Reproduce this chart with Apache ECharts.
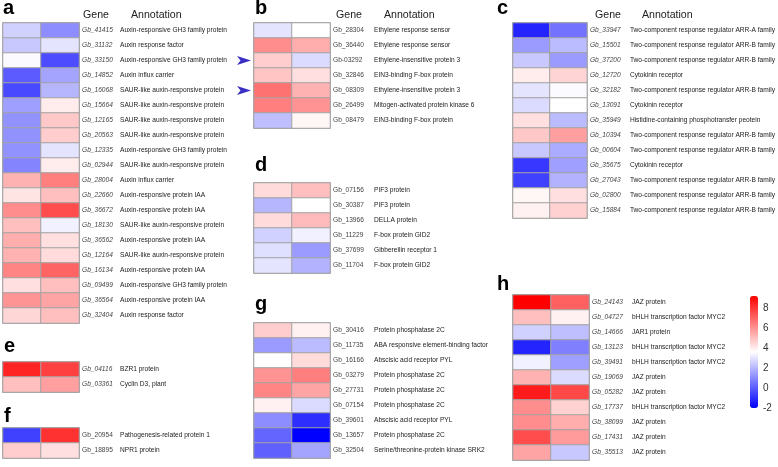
<!DOCTYPE html>
<html><head><meta charset="utf-8">
<script src="https://cdn.jsdelivr.net/npm/echarts@6/dist/echarts.min.js"></script>
<style>html,body{margin:0;padding:0;background:#fff}#c{width:778px;height:467px}</style>
</head><body><div id="c"></div>
<script>
// ---------- DATA ----------
const columns = ['1', '2'];
const colorTicks = [-2, 0, 2, 4, 6, 8];

const aGenes = ['Gb_41415','Gb_31132','Gb_33150','Gb_14852','Gb_16068','Gb_15664','Gb_12165','Gb_20563','Gb_12335','Gb_02944','Gb_28004','Gb_22660','Gb_36672','Gb_18130','Gb_36562','Gb_12164','Gb_16134','Gb_09499','Gb_36564','Gb_32404'];
const aAnnot = ['Auxin-responsive GH3 family protein','Auxin response factor','Auxin-responsive GH3 family protein','Auxin influx carrier','SAUR-like auxin-responsive protein','SAUR-like auxin-responsive protein','SAUR-like auxin-responsive protein','SAUR-like auxin-responsive protein','Auxin-responsive GH3 family protein','SAUR-like auxin-responsive protein','Auxin influx carrier','Auxin-responsive protein IAA','Auxin-responsive protein IAA','SAUR-like auxin-responsive protein','Auxin-responsive protein IAA','SAUR-like auxin-responsive protein','Auxin-responsive protein IAA','Auxin-responsive GH3 family protein','Auxin-responsive protein IAA','Auxin response factor'];
const aValues = [[2.6,1.1],[2.4,3.0],[3.5,-0.3],[0.0,1.6],[-0.4,2.0],[1.5,4.0],[1.2,4.8],[1.2,4.7],[1.2,3.0],[0.9,4.0],[5.3,6.4],[4.2,5.0],[6.1,7.5],[5.0,3.3],[5.4,4.3],[5.3,4.4],[6.3,7.0],[4.3,5.0],[5.95,5.6],[4.5,5.0]];

const eGenes = ['Gb_04116','Gb_03361'];
const eAnnot = ['BZR1 protein','Cyclin D3, plant'];
const eValues = [[8.4,7.8],[5.0,5.7]];

const fGenes = ['Gb_20954','Gb_18895'];
const fAnnot = ['Pathogenesis-related protein 1','NPR1 protein'];
const fValues = [[-0.6,8.1],[4.7,4.3]];

const bGenes = ['Gb_28304','Gb_36440','Gb-03292','Gb_32846','Gb_08309','Gb_26499','Gb_08479'];
const bAnnot = ['Ethylene response sensor','Ethylene response sensor','Ethylene-insensitive protein 3','EIN3-binding F-box protein','Ethylene-insensitive protein 3','Mitogen-activated protein kinase 6','EIN3-binding F-box protein'];
const bValues = [[3.0,3.6],[6.1,5.4],[4.7,2.8],[4.9,4.3],[6.7,5.3],[6.4,6.0],[2.2,3.8]];
const bArrowRows = ['Gb-03292','Gb_08309'];

const dGenes = ['Gb_07156','Gb_30387','Gb_13966','Gb_11229','Gb_37699','Gb_11704'];
const dAnnot = ['PIF3 protein','PIF3 protein','DELLA protein','F-box protein GID2','Gibberellin receptor 1','F-box protein GID2'];
const dValues = [[4.4,5.0],[2.0,3.6],[4.4,5.1],[2.6,3.3],[2.9,1.4],[3.0,1.9]];

const gGenes = ['Gb_30416','Gb_11735','Gb_16166','Gb_03279','Gb_27731','Gb_07154','Gb_39601','Gb_13657','Gb_32504'];
const gAnnot = ['Protein phosphatase 2C','ABA responsive element-binding factor','Abscisic acid receptor PYL','Protein phosphatase 2C','Protein phosphatase 2C','Protein phosphatase 2C','Abscisic acid receptor PYL','Protein phosphatase 2C','Serine/threonine-protein kinase SRK2'];
const gValues = [[4.7,3.9],[1.4,2.1],[3.6,4.4],[6.0,6.4],[6.3,5.6],[3.9,2.8],[1.1,-1.0],[0.2,-2.0],[0.1,1.6]];

const cGenes = ['Gb_33947','Gb_15501','Gb_37200','Gb_12720','Gb_32182','Gb_13091','Gb_35949','Gb_10394','Gb_00604','Gb_35675','Gb_27043','Gb_02800','Gb_15884'];
const cAnnot = ['Two-component response regulator ARR-A family','Two-component response regulator ARR-B family','Two-component response regulator ARR-B family','Cytokinin receptor','Two-component response regulator ARR-B family','Cytokinin receptor','Histidine-containing phosphotransfer peotein','Two-component response regulator ARR-B family','Two-component response regulator ARR-B family','Cytokinin receptor','Two-component response regulator ARR-B family','Two-component response regulator ARR-B family','Two-component response regulator ARR-B family'];
const cValues = [[-1.2,0.5],[1.4,2.1],[2.4,1.4],[4.0,4.55],[3.0,3.5],[2.8,3.6],[4.3,2.1],[4.8,5.7],[2.4,1.75],[-0.8,1.5],[-0.6,1.9],[3.8,4.3],[3.9,4.6]];

const hGenes = ['Gb_24143','Gb_04727','Gb_14666','Gb_13123','Gb_39491','Gb_19069','Gb_05282','Gb_17737','Gb_38099','Gb_17431','Gb_35513'];
const hAnnot = ['JAZ protein','bHLH transcription factor MYC2','JAR1 protein','bHLH transcription factor MYC2','bHLH transcription factor MYC2','JAZ protein','JAZ protein','bHLH transcription factor MYC2','JAZ protein','JAZ protein','JAZ protein'];
const hValues = [[9.2,7.1],[5.0,3.9],[2.6,2.2],[-1.2,0.8],[3.3,1.5],[5.3,2.8],[8.6,7.6],[6.1,4.6],[6.1,5.4],[7.5,5.8],[5.6,2.4]];

const colorMin = -2, colorMax = 9.2;

// ---------- LAYOUT ----------
const FONT = 'Liberation Sans, Arial, Helvetica, sans-serif';
const ROW = 15, CELLW = 76;
const panels = [
  {id:'a', genes:aGenes, ann:aAnnot, vals:aValues, left:3,   top:23,  italic:true,  gw:38, lx:3,   ly:8},
  {id:'e', genes:eGenes, ann:eAnnot, vals:eValues, left:3,   top:362, italic:true,  gw:38, lx:4,   ly:346},
  {id:'f', genes:fGenes, ann:fAnnot, vals:fValues, left:3,   top:428, italic:false, gw:38, lx:4,   ly:416},
  {id:'b', genes:bGenes, ann:bAnnot, vals:bValues, left:254, top:23,  italic:false, gw:41, lx:255, ly:8},
  {id:'d', genes:dGenes, ann:dAnnot, vals:dValues, left:254, top:183, italic:false, gw:41, lx:255, ly:165},
  {id:'g', genes:gGenes, ann:gAnnot, vals:gValues, left:254, top:323, italic:false, gw:41, lx:255, ly:304},
  {id:'c', genes:cGenes, ann:cAnnot, vals:cValues, left:513, top:23,  italic:true,  gw:40, lx:497, ly:8},
  {id:'h', genes:hGenes, ann:hAnnot, vals:hValues, left:513, top:295, italic:true,  gw:40, lx:497, ly:284}
];

const grid = [], xAxis = [], yAxis = [], series = [], graphic = [];
panels.forEach((p, i) => {
  grid.push({left:p.left, top:p.top, width:CELLW, height:ROW*p.genes.length,
    show:true, borderColor:'#9c9c9c', borderWidth:1.5, backgroundColor:'transparent'});
  xAxis.push({type:'category', gridIndex:i, data:columns, show:false});
  const ann = p.ann;
  yAxis.push({type:'category', gridIndex:i, data:p.genes, inverse:true, position:'right',
    axisLine:{show:false}, axisTick:{show:false}, splitLine:{show:false},
    axisLabel:{show:true, margin:3, interval:0,
      formatter:(v, idx) => '{g|' + v + '}{a|' + ann[idx] + '}',
      rich:{
        g:{width:p.gw, fontSize:6.6, fontStyle:p.italic?'italic':'normal', color:'#444', fontFamily:FONT},
        a:{fontSize:6.6, color:'#222', fontFamily:FONT}
      }}});
  const data = [];
  p.vals.forEach((row, r) => row.forEach((v, c) => data.push([c, r, v])));
  series.push({type:'heatmap', xAxisIndex:i, yAxisIndex:i, data:data,
    itemStyle:{borderColor:'#a3a3a3', borderWidth:1}, emphasis:{disabled:true}, silent:true});
  graphic.push({type:'text', x:p.lx, y:p.ly, silent:true,
    style:{text:p.id, font:'bold 20px ' + FONT, fill:'#000', verticalAlign:'middle'}});
});

// colour-bar tick axis
const cbIndex = grid.length;
grid.push({left:751, top:296, width:7, height:112, show:false});
xAxis.push({type:'value', gridIndex:cbIndex, show:false, min:0, max:1});
yAxis.push({type:'value', gridIndex:cbIndex, position:'right', min:colorMin, max:colorMax, interval:2,
  axisLine:{show:false}, axisTick:{show:false}, splitLine:{show:false},
  axisLabel:{show:true, margin:5, fontSize:10, color:'#333', fontFamily:FONT, showMaxLabel:false,
    formatter:v => colorTicks.indexOf(v) >= 0 ? String(v) : ''}});

// headers
[[83,131],[336,384],[595,642]].forEach(([gx, ax]) => {
  graphic.push({type:'text', x:gx, y:15.3, silent:true, style:{text:'Gene', font:'10.6px ' + FONT, fill:'#222', verticalAlign:'middle'}});
  graphic.push({type:'text', x:ax, y:15.3, silent:true, style:{text:'Annotation', font:'10.6px ' + FONT, fill:'#222', verticalAlign:'middle'}});
});

const chart = echarts.init(document.getElementById('c'), null, {renderer:'canvas'});
chart.setOption({
  animation:false,
  grid, xAxis, yAxis, series,
  visualMap:{type:'continuous', min:colorMin, max:colorMax, calculable:false, show:true,
    seriesIndex:series.map((s, i) => i), orient:'vertical', left:750, top:296,
    itemWidth:8, itemHeight:112, padding:0, text:null, showLabel:false,
    inRange:{color:['#0000ff','#ffffff','#ff0000']}},
  graphic
});

// arrows marking rows of panel b (position from the axis scale)
const bIdx = panels.findIndex(p => p.id === 'b');
bArrowRows.forEach(g => {
  const pt = chart.convertToPixel({gridIndex:bIdx}, [0, g]);
  const y = pt[1];
  graphic.push({type:'polygon', silent:true,
    shape:{points:[[237, y-4.5],[251, y],[237, y+4.5],[240.5, y]]},
    style:{fill:'#3a2fc4'}});
});
chart.setOption({graphic});
</script></body></html>
